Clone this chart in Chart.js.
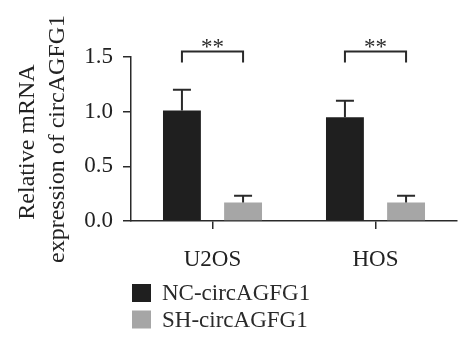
<!DOCTYPE html>
<html>
<head>
<meta charset="utf-8">
<script src="https://cdn.jsdelivr.net/npm/chart.js@4"></script>
<style>
  html, body { margin: 0; padding: 0; background: #fff; }
  #wrap { width: 474px; height: 354px; }
</style>
</head>
<body>
<div id="wrap"><canvas id="expressionGraph" width="474" height="354"></canvas></div>
<script>
const groups = ['U2OS', 'HOS'];
const ncMeans = [1.01, 0.95];
const ncSD = [0.19, 0.15];
const shMeans = [0.17, 0.17];
const shSD = [0.06, 0.06];
const sigMarks = ['**', '**'];
const bracketLevel = 1.55;
const bracketLeg = 0.1;

const serif = 'Liberation Serif',
      ink = '#2a2a2a';

// error bars (upper only) drawn from the SD arrays
const errorBars = {
    id: 'errorBars',
    afterDatasetsDraw(chart) {
        const ctx = chart.ctx, y = chart.scales.y;
        const sds = [ncSD, shSD];
        ctx.save();
        ctx.strokeStyle = ink;
        ctx.lineWidth = 2;
        chart.data.datasets.forEach((ds, i) => {
            chart.getDatasetMeta(i).data.forEach((bar, j) => {
                const top = y.getPixelForValue(ds.data[j] + sds[i][j]);
                ctx.beginPath();
                ctx.moveTo(bar.x, bar.y);
                ctx.lineTo(bar.x, top);
                ctx.moveTo(bar.x - 9, top);
                ctx.lineTo(bar.x + 9, top);
                ctx.stroke();
            });
        });
        ctx.restore();
    }
};

// significance brackets between the two bars of each group
const brackets = {
    id: 'brackets',
    afterDraw(chart) {
        const ctx = chart.ctx, y = chart.scales.y;
        const a = chart.getDatasetMeta(0).data, b = chart.getDatasetMeta(1).data;
        const top = y.getPixelForValue(bracketLevel),
              leg = y.getPixelForValue(bracketLevel - bracketLeg);
        ctx.save();
        ctx.strokeStyle = ink;
        ctx.lineWidth = 2;
        ctx.fillStyle = ink;
        ctx.font = '23px "' + serif + '"';
        ctx.textAlign = 'center';
        ctx.textBaseline = 'alphabetic';
        sigMarks.forEach((mark, j) => {
            ctx.beginPath();
            ctx.moveTo(a[j].x, leg);
            ctx.lineTo(a[j].x, top);
            ctx.lineTo(b[j].x, top);
            ctx.lineTo(b[j].x, leg);
            ctx.stroke();
            ctx.fillText(mark, (a[j].x + b[j].x) / 2, top + 2);
        });
        ctx.restore();
    }
};

// vertical legend under the x axis
const sideLegend = {
    id: 'sideLegend',
    afterDraw(chart) {
        const ctx = chart.ctx, area = chart.chartArea;
        ctx.save();
        ctx.font = '23px "' + serif + '"';
        ctx.textBaseline = 'middle';
        ctx.textAlign = 'left';
        chart.data.datasets.forEach((ds, i) => {
            const top = area.bottom + 63 + i * 26.5;
            ctx.fillStyle = ds.backgroundColor;
            ctx.fillRect(area.left + 1, top, 19, 18);
            ctx.fillStyle = ink;
            ctx.fillText(ds.label, area.left + 31, top + 10);
        });
        ctx.restore();
    }
};

const expressionChart = new Chart(document.getElementById('expressionGraph').getContext('2d'), {
    type: 'bar',
    data: {
        labels: groups,
        datasets: [{
            label: 'NC-circAGFG1',
            data: ncMeans,
            backgroundColor: '#1f1f1f',
            categoryPercentage: 0.75,
            barPercentage: 0.62
        }, {
            label: 'SH-circAGFG1',
            data: shMeans,
            backgroundColor: '#a6a6a6',
            categoryPercentage: 0.75,
            barPercentage: 0.62
        }]
    },
    options: {
        responsive: false,
        animation: false,
        layout: {
            padding: { top: 57, right: 17, bottom: 80, left: 0 }
        },
        plugins: {
            legend: { display: false },
            tooltip: { enabled: false }
        },
        scales: {
            x: {
                afterFit(s) { s.height = 53; },
                grid: {
                    offset: false,
                    drawOnChartArea: false,
                    tickLength: 8,
                    color: ink,
                    lineWidth: 1.5
                },
                border: { color: ink, width: 1.5 },
                ticks: {
                    color: '#222',
                    padding: 17,
                    font: { family: serif, size: 23 }
                }
            },
            y: {
                min: 0,
                max: 1.5,
                afterFit(s) { s.width = 131; },
                grid: {
                    drawOnChartArea: false,
                    tickLength: 8,
                    color: ink,
                    lineWidth: 1.5
                },
                border: { color: ink, width: 1.5 },
                ticks: {
                    stepSize: 0.5,
                    color: '#222',
                    padding: 10,
                    font: { family: serif, size: 23 },
                    callback: v => v.toFixed(1)
                },
                title: {
                    display: true,
                    text: ['Relative mRNA ', 'expression of circAGFG1'],
                    color: '#222',
                    padding: { top: 12, bottom: 0 },
                    font: { family: serif, size: 24, lineHeight: 1.28 }
                }
            }
        }
    },
    plugins: [errorBars, brackets, sideLegend]
});
</script>
</body>
</html>
